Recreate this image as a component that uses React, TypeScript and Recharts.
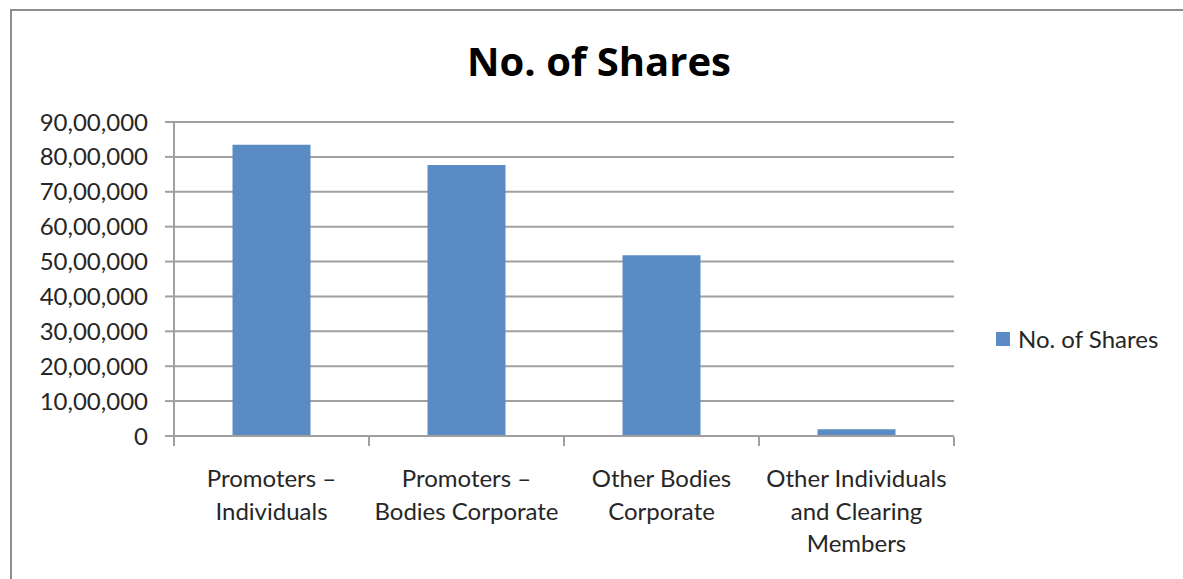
import React from 'react';
import { BarChart, Bar, XAxis, YAxis, CartesianGrid, Legend } from 'recharts';

const chartTitle = 'No. of Shares';
const seriesName = 'No. of Shares';
const categories = [
  'Promoters –\nIndividuals',
  'Promoters –\nBodies Corporate',
  'Other Bodies\nCorporate',
  'Other Individuals\nand Clearing\nMembers',
];
const shares = [8350000, 7770000, 5180000, 190000];
const yTicks = [0, 1000000, 2000000, 3000000, 4000000, 5000000, 6000000, 7000000, 8000000, 9000000];
const boundaryTicks = [0, 1, 2, 3, 4];

const data = categories.map((category, i) => ({ category, shares: shares[i], pos: i + 0.5 }));

const FONT = 'Lato, "Open Sans", sans-serif';
const TITLE_FONT = '"Open Sans", Lato, sans-serif';
const TEXT = '#262626';
const LINE = '#a0a0a0';
const BAR = '#5B8BC5';

function indian(n: number): string {
  const s = String(Math.round(n));
  if (s.length <= 3) return s;
  const last3 = s.slice(-3);
  let rest = s.slice(0, -3);
  const parts: string[] = [];
  while (rest.length > 2) {
    parts.unshift(rest.slice(-2));
    rest = rest.slice(0, -2);
  }
  if (rest.length) parts.unshift(rest);
  return parts.join(',') + ',' + last3;
}

const CategoryTick = (props: any) => {
  const { x, y, payload } = props;
  const lines = String(payload.value).split('\n');
  return (
    <text x={x} y={y + 51} textAnchor="middle" fontFamily={FONT} fontSize={24} fill={TEXT}>
      {lines.map((l, i) => (
        <tspan key={i} x={x} dy={i === 0 ? 0 : 32.5}>
          {l}
        </tspan>
      ))}
    </text>
  );
};

const LegendContent = (props: any) => {
  const { payload } = props;
  return (
    <div style={{ fontFamily: FONT, fontSize: 24, color: TEXT, lineHeight: '29px', whiteSpace: 'nowrap' }}>
      {(payload || []).map((p: any, i: number) => (
        <div key={i} style={{ display: 'flex', alignItems: 'center' }}>
          <span style={{ display: 'inline-block', width: 14, height: 14, background: p.color, marginRight: 8 }} />
          <span>{p.value}</span>
        </div>
      ))}
    </div>
  );
};

export default function App() {
  return (
    <div style={{ position: 'fixed', left: 0, top: 0, width: 1183, height: 579, overflow: 'hidden', background: '#fff' }}>
      <div
        style={{
          position: 'absolute',
          left: 10,
          top: 9,
          width: 1300,
          height: 700,
          border: '2px solid #8d8d8d',
          boxSizing: 'border-box',
        }}
      />
      <div style={{ position: 'absolute', left: 0, top: 0 }}>
        <BarChart
          width={1183}
          height={579}
          data={data}
          margin={{ top: 122, right: 229, bottom: 141, left: 0 }}
          barCategoryGap="30%"
        >
          <CartesianGrid xAxisId="cat" vertical={false} stroke={LINE} strokeWidth={2} />
          <XAxis
            xAxisId="cat"
            dataKey="category"
            type="category"
            height={1}
            interval={0}
            tickLine={false}
            tickSize={0}
            tickMargin={0}
            axisLine={{ stroke: LINE, strokeWidth: 2 }}
            tick={<CategoryTick />}
          />
          <XAxis
            xAxisId="edges"
            dataKey="pos"
            type="number"
            domain={[0, 4]}
            ticks={boundaryTicks}
            interval={0}
            height={1}
            axisLine={false}
            tickSize={9}
            tickLine={{ stroke: LINE, strokeWidth: 2 }}
            tickFormatter={() => ''}
          />
          <YAxis
            width={174}
            domain={[0, 9000000]}
            ticks={yTicks}
            interval={0}
            tickFormatter={indian}
            tickSize={9}
            tickMargin={17}
            axisLine={{ stroke: LINE, strokeWidth: 2 }}
            tickLine={{ stroke: LINE, strokeWidth: 2 }}
            tick={{ fontFamily: FONT, fontSize: 24, fill: TEXT }}
          />
          <Legend
            layout="vertical"
            align="center"
            verticalAlign="middle"
            content={<LegendContent />}
            wrapperStyle={{ position: 'absolute', left: 996, top: 324, width: 'auto' }}
          />
          <Bar xAxisId="cat" dataKey="shares" name={seriesName} fill={BAR} isAnimationActive={false} />
        </BarChart>
      </div>
      <svg width={1183} height={110} style={{ position: 'absolute', left: 0, top: 0 }}>
        <text x={599} y={76} textAnchor="middle" fontFamily={TITLE_FONT} fontWeight={700} fontSize={40} fill="#000">
          {chartTitle}
        </text>
      </svg>
    </div>
  );
}
